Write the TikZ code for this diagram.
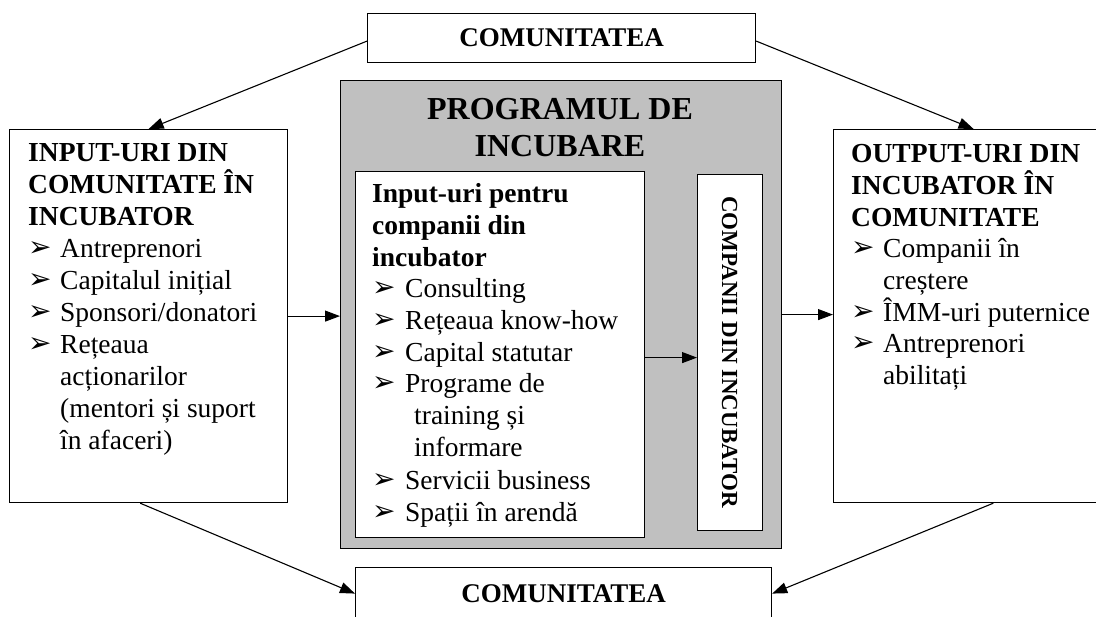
\documentclass[tikz,border=0pt]{standalone}
\usepackage{fontspec}
\setmainfont{Liberation Serif}
\newfontfamily\dejavu{DejaVu Sans}
\usetikzlibrary{arrows.meta,calc}
\definecolor{boxgray}{RGB}{192,192,192}
\newcommand{\arrbul}{{\dejavu\fontsize{28}{28}\selectfont ➢}}
\begin{document}
\begin{tikzpicture}[x=1pt,y=-1pt,
  box/.style={draw=black,line width=1.2pt,fill=white,inner sep=0pt,anchor=north west},
  txt/.style={anchor=base west,inner sep=0pt,font=\fontsize{27.5}{32}\selectfont},
  hd/.style={anchor=base west,inner sep=0pt,font=\bfseries\fontsize{27.5}{32}\selectfont},
  bl/.style={anchor=base west,inner sep=0pt,yshift=1pt},
  conn/.style={draw=black,line width=1.1pt,-{Triangle[length=15pt,width=11pt]}}]
\useasboundingbox (0,0) rectangle (1096,617);
\fill[white] (0,0) rectangle (1096,617);

% boxes
\node[box,minimum width=388pt,minimum height=49pt,font=\bfseries\fontsize{27}{32}\selectfont] (top) at (367,13) {COMUNITATEA};
\node[box,fill=boxgray,minimum width=441pt,minimum height=468pt] (gray) at (340,80) {};
\node[box,minimum width=289pt,minimum height=366pt] (inner) at (355,171) {};
\node[box,minimum width=65pt,minimum height=356pt] (comp) at (697,174) {};
\node[box,minimum width=278pt,minimum height=373pt] (left) at (9,129) {};
\node[box,minimum width=280pt,minimum height=373pt] (right) at (833,129) {};
\node[box,minimum width=416pt,minimum height=52pt,font=\bfseries\fontsize{27}{32}\selectfont] (bot) at (355,567) {COMUNITATEA};

% gray heading
\node[anchor=base,inner sep=0pt,font=\bfseries\fontsize{32}{37}\selectfont] (g1) at (560,120) {PROGRAMUL DE};
\node[anchor=base,inner sep=0pt,font=\bfseries\fontsize{32}{37}\selectfont] (g2) at (560,157) {INCUBARE};

% companii rotated
\node[rotate=-90,inner sep=0pt,font=\bfseries\fontsize{23}{27}\selectfont] (compt) at (729.5,352) {COMPANII DIN INCUBATOR};

% left box text
\node[hd] (l1) at (28,162) {INPUT-URI DIN};
\node[hd] (l2) at (28,194) {COMUNITATE ÎN};
\node[hd] (l3) at (28,226) {INCUBATOR};
\node[bl] (lb1) at (28,258) {\arrbul};
\node[txt] (l4) at (60,258) {Antreprenori};
\node[bl] (lb2) at (28,290) {\arrbul};
\node[txt] (l5) at (60,290) {Capitalul inițial};
\node[bl] (lb3) at (28,322) {\arrbul};
\node[txt] (l6) at (60,322) {Sponsori/donatori};
\node[bl] (lb4) at (28,354) {\arrbul};
\node[txt] (l7) at (60,354) {Rețeaua};
\node[txt] (l8) at (60,386) {acționarilor};
\node[txt] (l9) at (60,418) {(mentori și suport};
\node[txt] (l10) at (60,450) {în afaceri)};

% inner box text
\node[hd] (i1) at (372,203) {Input-uri pentru};
\node[hd] (i2) at (372,235) {companii din};
\node[hd] (i3) at (372,267) {incubator};
\node[bl] (ib1) at (372,298) {\arrbul};
\node[txt] (i4) at (405,298) {Consulting};
\node[bl] (ib2) at (372,330) {\arrbul};
\node[txt] (i5) at (405,330) {Rețeaua know-how};
\node[bl] (ib3) at (372,362) {\arrbul};
\node[txt] (i6) at (405,362) {Capital statutar};
\node[bl] (ib4) at (372,393) {\arrbul};
\node[txt] (i7) at (405,393) {Programe de};
\node[txt] (i8) at (414,425) {training și};
\node[txt] (i9) at (414,457) {informare};
\node[bl] (ib5) at (372,490) {\arrbul};
\node[txt] (i10) at (405,490) {Servicii business};
\node[bl] (ib6) at (372,522) {\arrbul};
\node[txt] (i11) at (405,522) {Spații în arendă};

% right box text
\node[hd] (r1) at (851,163) {OUTPUT-URI DIN};
\node[hd] (r2) at (851,195) {INCUBATOR ÎN};
\node[hd] (r3) at (851,227) {COMUNITATE};
\node[bl] (rb1) at (851,258) {\arrbul};
\node[txt] (r4) at (883,258) {Companii în};
\node[txt] (r5) at (883,290) {creștere};
\node[bl] (rb2) at (851,322) {\arrbul};
\node[txt] (r6) at (883,322) {ÎMM-uri puternice};
\node[bl] (rb3) at (851,353) {\arrbul};
\node[txt] (r7) at (883,353) {Antreprenori};
\node[txt] (r8) at (883,385) {abilitați};

% connectors
\draw[conn] ([yshift=-3pt]top.west) -- (left.north);
\draw[conn] ([yshift=-3pt]top.east) -- (right.north);
\draw[conn] (left.east) -- (left.east -| gray.west);
\draw[conn] ([yshift=-3pt]inner.east) -- ([yshift=-3pt]inner.east -| comp.west);
\draw[conn] (gray.east) -- (gray.east -| right.west);
\draw[conn] ($(left.south west)!0.47!(left.south east)$) -- (bot.west);
\draw[conn] ($(right.south west)!0.57!(right.south east)$) -- (bot.east);
\end{tikzpicture}
\end{document}
